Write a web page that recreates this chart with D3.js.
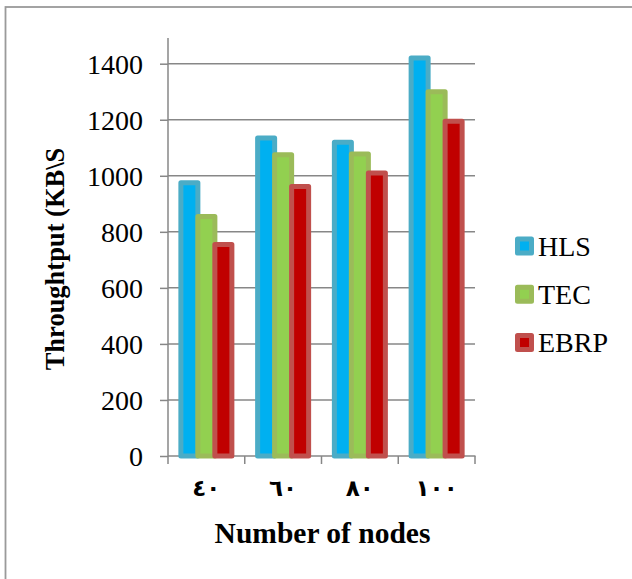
<!DOCTYPE html>
<html><head><meta charset="utf-8">
<script src="https://cdn.jsdelivr.net/npm/d3@7"></script>
<style>html,body{margin:0;padding:0;background:#fff;}svg{display:block;}</style>
</head><body>
<script>
const categories = ["٤٠", "٦٠", "٨٠", "١٠٠"];
const seriesNames = ["HLS", "TEC", "EBRP"];
const HLS  = [975, 1135, 1120, 1420];
const TEC  = [855, 1075, 1078, 1300];
const EBRP = [755, 962, 1010, 1195];
const yTicks = [0, 200, 400, 600, 800, 1000, 1200, 1400];
const fills = ["#00B0F0", "#92D050", "#C00000"];
const strokes = ["#4BACC6", "#9BBB59", "#C0504D"];
const seriesData = [HLS, TEC, EBRP];

const W = 632, H = 579;
const svg = d3.select("body").append("svg").attr("width", W).attr("height", H);
svg.append("rect").attr("width", W).attr("height", H).attr("fill", "#fff");
// outer border (extends beyond right/bottom)
svg.append("rect").attr("x", 5.5).attr("y", 7).attr("width", 700).attr("height", 700)
  .attr("fill", "none").attr("stroke", "#9a9a9a").attr("stroke-width", 1.8);

const x = d3.scaleBand().domain(categories).range([168, 475]).padding(0);
const xs = d3.scaleBand().domain(seriesNames).range([-25.5, 25.5]).padding(0);
const y = d3.scaleLinear().domain([0, 1400]).range([456, 63.7]);
const serif = "'Liberation Serif','Times New Roman',serif";

// gridlines
svg.append("g").selectAll("line").data(yTicks.slice(1)).join("line")
  .attr("x1", 168).attr("x2", 475).attr("y1", d => y(d)).attr("y2", d => y(d))
  .attr("stroke", "#878787").attr("stroke-width", 1.5);

// y axis
const yAxis = svg.append("g").attr("transform", "translate(168,0)")
  .call(d3.axisLeft(y).tickValues(yTicks).tickSize(8).tickPadding(17).tickFormat(d3.format("d")));
yAxis.select(".domain").remove();
yAxis.selectAll(".tick line").attr("stroke", "#878787").attr("stroke-width", 1.5);
yAxis.selectAll(".tick text").attr("font-family", serif).attr("font-size", 28).attr("fill", "#000").attr("dy", "0.34em");
svg.append("line").attr("x1", 168).attr("x2", 168).attr("y1", 38).attr("y2", 456)
  .attr("stroke", "#878787").attr("stroke-width", 1.5);

// x axis
const xAxisG = svg.append("g").attr("transform", "translate(0,456)");
xAxisG.append("line").attr("x1", 168).attr("x2", 475.5).attr("stroke", "#878787").attr("stroke-width", 1.5);
const bounds = categories.map(c => x(c)).concat([x.range()[1]]);
xAxisG.selectAll("line.tk").data(bounds).join("line").attr("class", "tk")
  .attr("x1", d => d).attr("x2", d => d).attr("y1", 0).attr("y2", 8)
  .attr("stroke", "#878787").attr("stroke-width", 1.5);
xAxisG.selectAll("text").data(categories).join("text")
  .attr("x", d => x(d) + x.bandwidth() / 2).attr("y", 40)
  .attr("text-anchor", "middle").attr("font-family", "'DejaVu Sans', sans-serif").attr("font-size", 23)
  .attr("font-weight", "bold").attr("fill", "#000").text(d => d);

// bars
seriesNames.forEach((s, i) => {
  svg.append("g").selectAll("rect").data(seriesData[i]).join("rect")
    .attr("x", (d, j) => x(categories[j]) + x.bandwidth() / 2 + xs(s))
    .attr("width", xs.bandwidth())
    .attr("y", d => y(d)).attr("height", d => y(0) - y(d))
    .attr("fill", fills[i]).attr("stroke", strokes[i]).attr("stroke-width", 5)
    .attr("stroke-linejoin", "round");
});

// axis titles
svg.append("text").attr("x", 322.5).attr("y", 543).attr("text-anchor", "middle")
  .attr("font-family", serif).attr("font-weight", "bold").attr("font-size", 29.5).attr("fill", "#000")
  .text("Number of nodes");
svg.append("text").attr("transform", "translate(64,259) rotate(-90)").attr("text-anchor", "middle")
  .attr("font-family", serif).attr("font-weight", "bold").attr("font-size", 26.5).attr("fill", "#000")
  .text("Throughtput (KB\\S");

// legend
const leg = svg.append("g");
const legY = d3.scalePoint().domain(seriesNames).range([246, 342.5]);
seriesNames.forEach((s, i) => {
  leg.append("rect").attr("x", 517.5).attr("y", legY(s) - 7).attr("width", 14).attr("height", 14)
    .attr("fill", fills[i]).attr("stroke", strokes[i]).attr("stroke-width", 5).attr("stroke-linejoin", "round");
  leg.append("text").attr("x", 538).attr("y", legY(s) + 9.5).attr("font-family", serif)
    .attr("font-size", 28).attr("fill", "#000").text(s);
});
</script>
</body></html>
